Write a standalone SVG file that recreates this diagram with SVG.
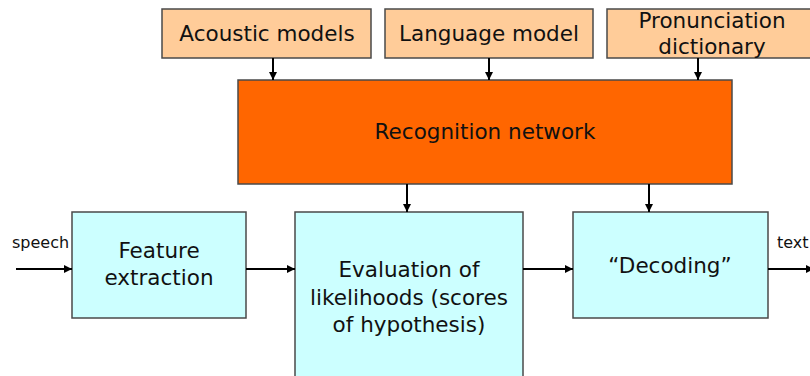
<svg xmlns="http://www.w3.org/2000/svg" width="810" height="376" viewBox="0 0 810 376">
<style>
.box{stroke:#4a4a4a;stroke-width:1.5}
.src{fill:#FFCC99}
.rec{fill:#FF6600}
.blu{fill:#CCFFFF}
text{font-family:"DejaVu Sans","Liberation Sans",sans-serif;fill:#111;text-anchor:middle}
.t{font-size:21.5px}
.s{font-size:16px;text-anchor:start}
.c line{stroke:#000;stroke-width:2;marker-end:url(#ah)}
</style>
<defs>
<marker id="ah" viewBox="0 0 10 10" refX="10" refY="5" markerWidth="9" markerHeight="8" orient="auto" markerUnits="userSpaceOnUse">
<path d="M0,0 L10,5 L0,10 z" fill="#000"/>
</marker>
</defs>
<rect width="810" height="376" fill="#fff"/>
<g id="acoustic"><rect class="box src" x="162" y="9" width="209" height="49"/><text class="t" x="267" y="41">Acoustic models</text></g>
<g id="language"><rect class="box src" x="385" y="9" width="208" height="49"/><text class="t" x="489" y="41">Language model</text></g>
<g id="pronunciation"><rect class="box src" x="607" y="9" width="210" height="49"/><text class="t" x="712" y="28">Pronunciation</text><text class="t" x="712" y="54">dictionary</text></g>
<g id="recognition"><rect class="box rec" x="238" y="80" width="494" height="104"/><text class="t" x="485" y="139">Recognition network</text></g>
<g id="feature"><rect class="box blu" x="72" y="212" width="174" height="106"/><text class="t" x="159" y="258">Feature</text><text class="t" x="159" y="285">extraction</text></g>
<g id="evaluation"><rect class="box blu" x="295" y="212" width="228" height="170"/><text class="t" x="409" y="277">Evaluation of</text><text class="t" x="409" y="305">likelihoods (scores</text><text class="t" x="409" y="332">of hypothesis)</text></g>
<g id="decoding"><rect class="box blu" x="573" y="212" width="195" height="106"/><text class="t" x="670" y="273">“Decoding”</text></g>
<g id="labels"><text class="s" x="12" y="248">speech</text><text class="s" x="777" y="248">text</text></g>
<g class="c" id="connectors">
<line x1="273" y1="58" x2="273" y2="80"/>
<line x1="489" y1="58" x2="489" y2="80"/>
<line x1="698" y1="58" x2="698" y2="80"/>
<line x1="407" y1="184" x2="407" y2="212"/>
<line x1="649" y1="184" x2="649" y2="212"/>
<line x1="16" y1="269" x2="72" y2="269"/>
<line x1="246" y1="269" x2="295" y2="269"/>
<line x1="523" y1="269" x2="573" y2="269"/>
<line x1="768" y1="269" x2="814" y2="269"/>
</g>
</svg>
